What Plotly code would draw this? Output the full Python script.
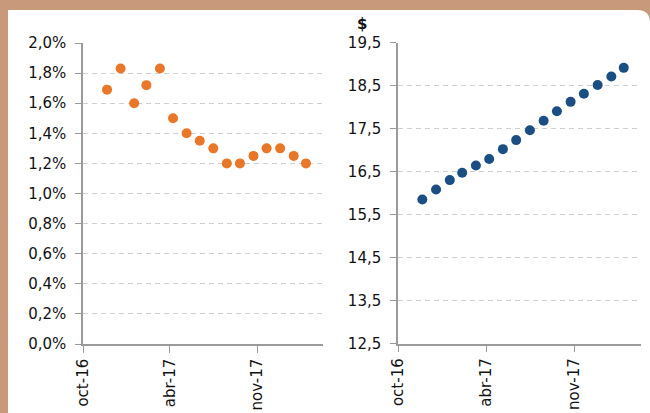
import plotly.graph_objects as go

W, H = 650, 413

dates = ["2016-11-30", "2016-12-31", "2017-01-31", "2017-02-28", "2017-03-31",
         "2017-04-30", "2017-05-31", "2017-06-30", "2017-07-31", "2017-08-31",
         "2017-09-30", "2017-10-31", "2017-11-30", "2017-12-31", "2018-01-31",
         "2018-02-28"]
rate = [0.0169, 0.0183, 0.0160, 0.0172, 0.0183, 0.0150, 0.0140, 0.0135,
        0.0130, 0.0120, 0.0120, 0.0125, 0.0130, 0.0130, 0.0125, 0.0120]
price = [15.85, 16.08, 16.30, 16.47, 16.64, 16.79, 17.02, 17.23, 17.46,
         17.68, 17.90, 18.12, 18.31, 18.51, 18.71, 18.91]

tick_dates = ["2016-10-06", "2017-04-23", "2017-11-09"]
tick_labels = ["oct-16", "abr-17", "nov-17"]
x_range = ["2016-10-06", "2018-04-08"]

def px(x):
    return x / W

def py(y):
    return 1 - y / H

fig = go.Figure()
fig.add_trace(go.Scatter(x=dates, y=rate, mode="markers",
                         marker=dict(size=10, color="#E8772A"),
                         xaxis="x", yaxis="y", showlegend=False))
fig.add_trace(go.Scatter(x=dates, y=price, mode="markers",
                         marker=dict(size=10, color="#1B4F84"),
                         xaxis="x2", yaxis="y2", showlegend=False))

font = dict(family="DejaVu Sans, Verdana, sans-serif", size=15, color="#111111")
axcol = "#9a9a9a"
grid = dict(showgrid=True, gridcolor="#cfcfcf", gridwidth=1, griddash="5px,4px")

xcommon = dict(type="date", range=x_range, tickvals=tick_dates, ticktext=tick_labels,
               tickangle=-90, showline=True, linecolor=axcol, linewidth=1.5,
               ticks="outside", ticklen=7, tickcolor=axcol, showgrid=False,
               zeroline=False, tickfont=font, automargin=False)

fig.update_layout(
    width=W, height=H,
    margin=dict(l=0, r=0, t=0, b=0),
    paper_bgcolor="#C8997A",
    plot_bgcolor="rgba(0,0,0,0)",
    separators=",.",
    xaxis=dict(domain=[px(83), px(323)], anchor="y", **xcommon),
    yaxis=dict(domain=[py(344), py(43)], anchor="x", range=[0, 0.02],
               tickvals=[0, 0.002, 0.004, 0.006, 0.008, 0.010, 0.012, 0.014,
                         0.016, 0.018, 0.020],
               tickformat=".1%", showline=True, linecolor=axcol, linewidth=1.5,
               ticks="outside", ticklen=6, tickcolor=axcol, zeroline=False,
               tickfont=font, ticklabelstandoff=6, automargin=False, **grid),
    xaxis2=dict(domain=[px(398), px(641)], anchor="y2", **xcommon),
    yaxis2=dict(domain=[py(343.5), py(42.5)], anchor="x2", range=[12.5, 19.5],
                tick0=12.5, dtick=1, tickformat=".1f", showline=True,
                linecolor=axcol, linewidth=1.5, ticks="outside", ticklen=6,
                tickcolor=axcol, zeroline=False, tickfont=font,
                ticklabelstandoff=6, automargin=False, **grid),
    shapes=[dict(type="path", xref="paper", yref="paper", layer="below",
                 path=(f"M {px(8)},{py(413)} L {px(8)},{py(10)} L {px(637)},{py(10)} "
                       f"Q {px(650)},{py(10)} {px(650)},{py(23)} L {px(650)},{py(413)} Z"),
                 fillcolor="white", line=dict(width=0))],
    annotations=[dict(text="<b>$</b>", xref="paper", yref="paper", x=px(362), y=py(24),
                      showarrow=False, font=dict(family="DejaVu Sans, sans-serif",
                                                 size=15, color="#111111"),
                      xanchor="center", yanchor="middle")],
)

fig.write_html("out.html", config={"displayModeBar": False})

with open("out.html", "r", encoding="utf-8") as f:
    html = f.read()
html = html.replace("<head>", "<head><style>html,body{margin:0;padding:0;overflow:hidden;}</style>", 1)
with open("out.html", "w", encoding="utf-8") as f:
    f.write(html)
